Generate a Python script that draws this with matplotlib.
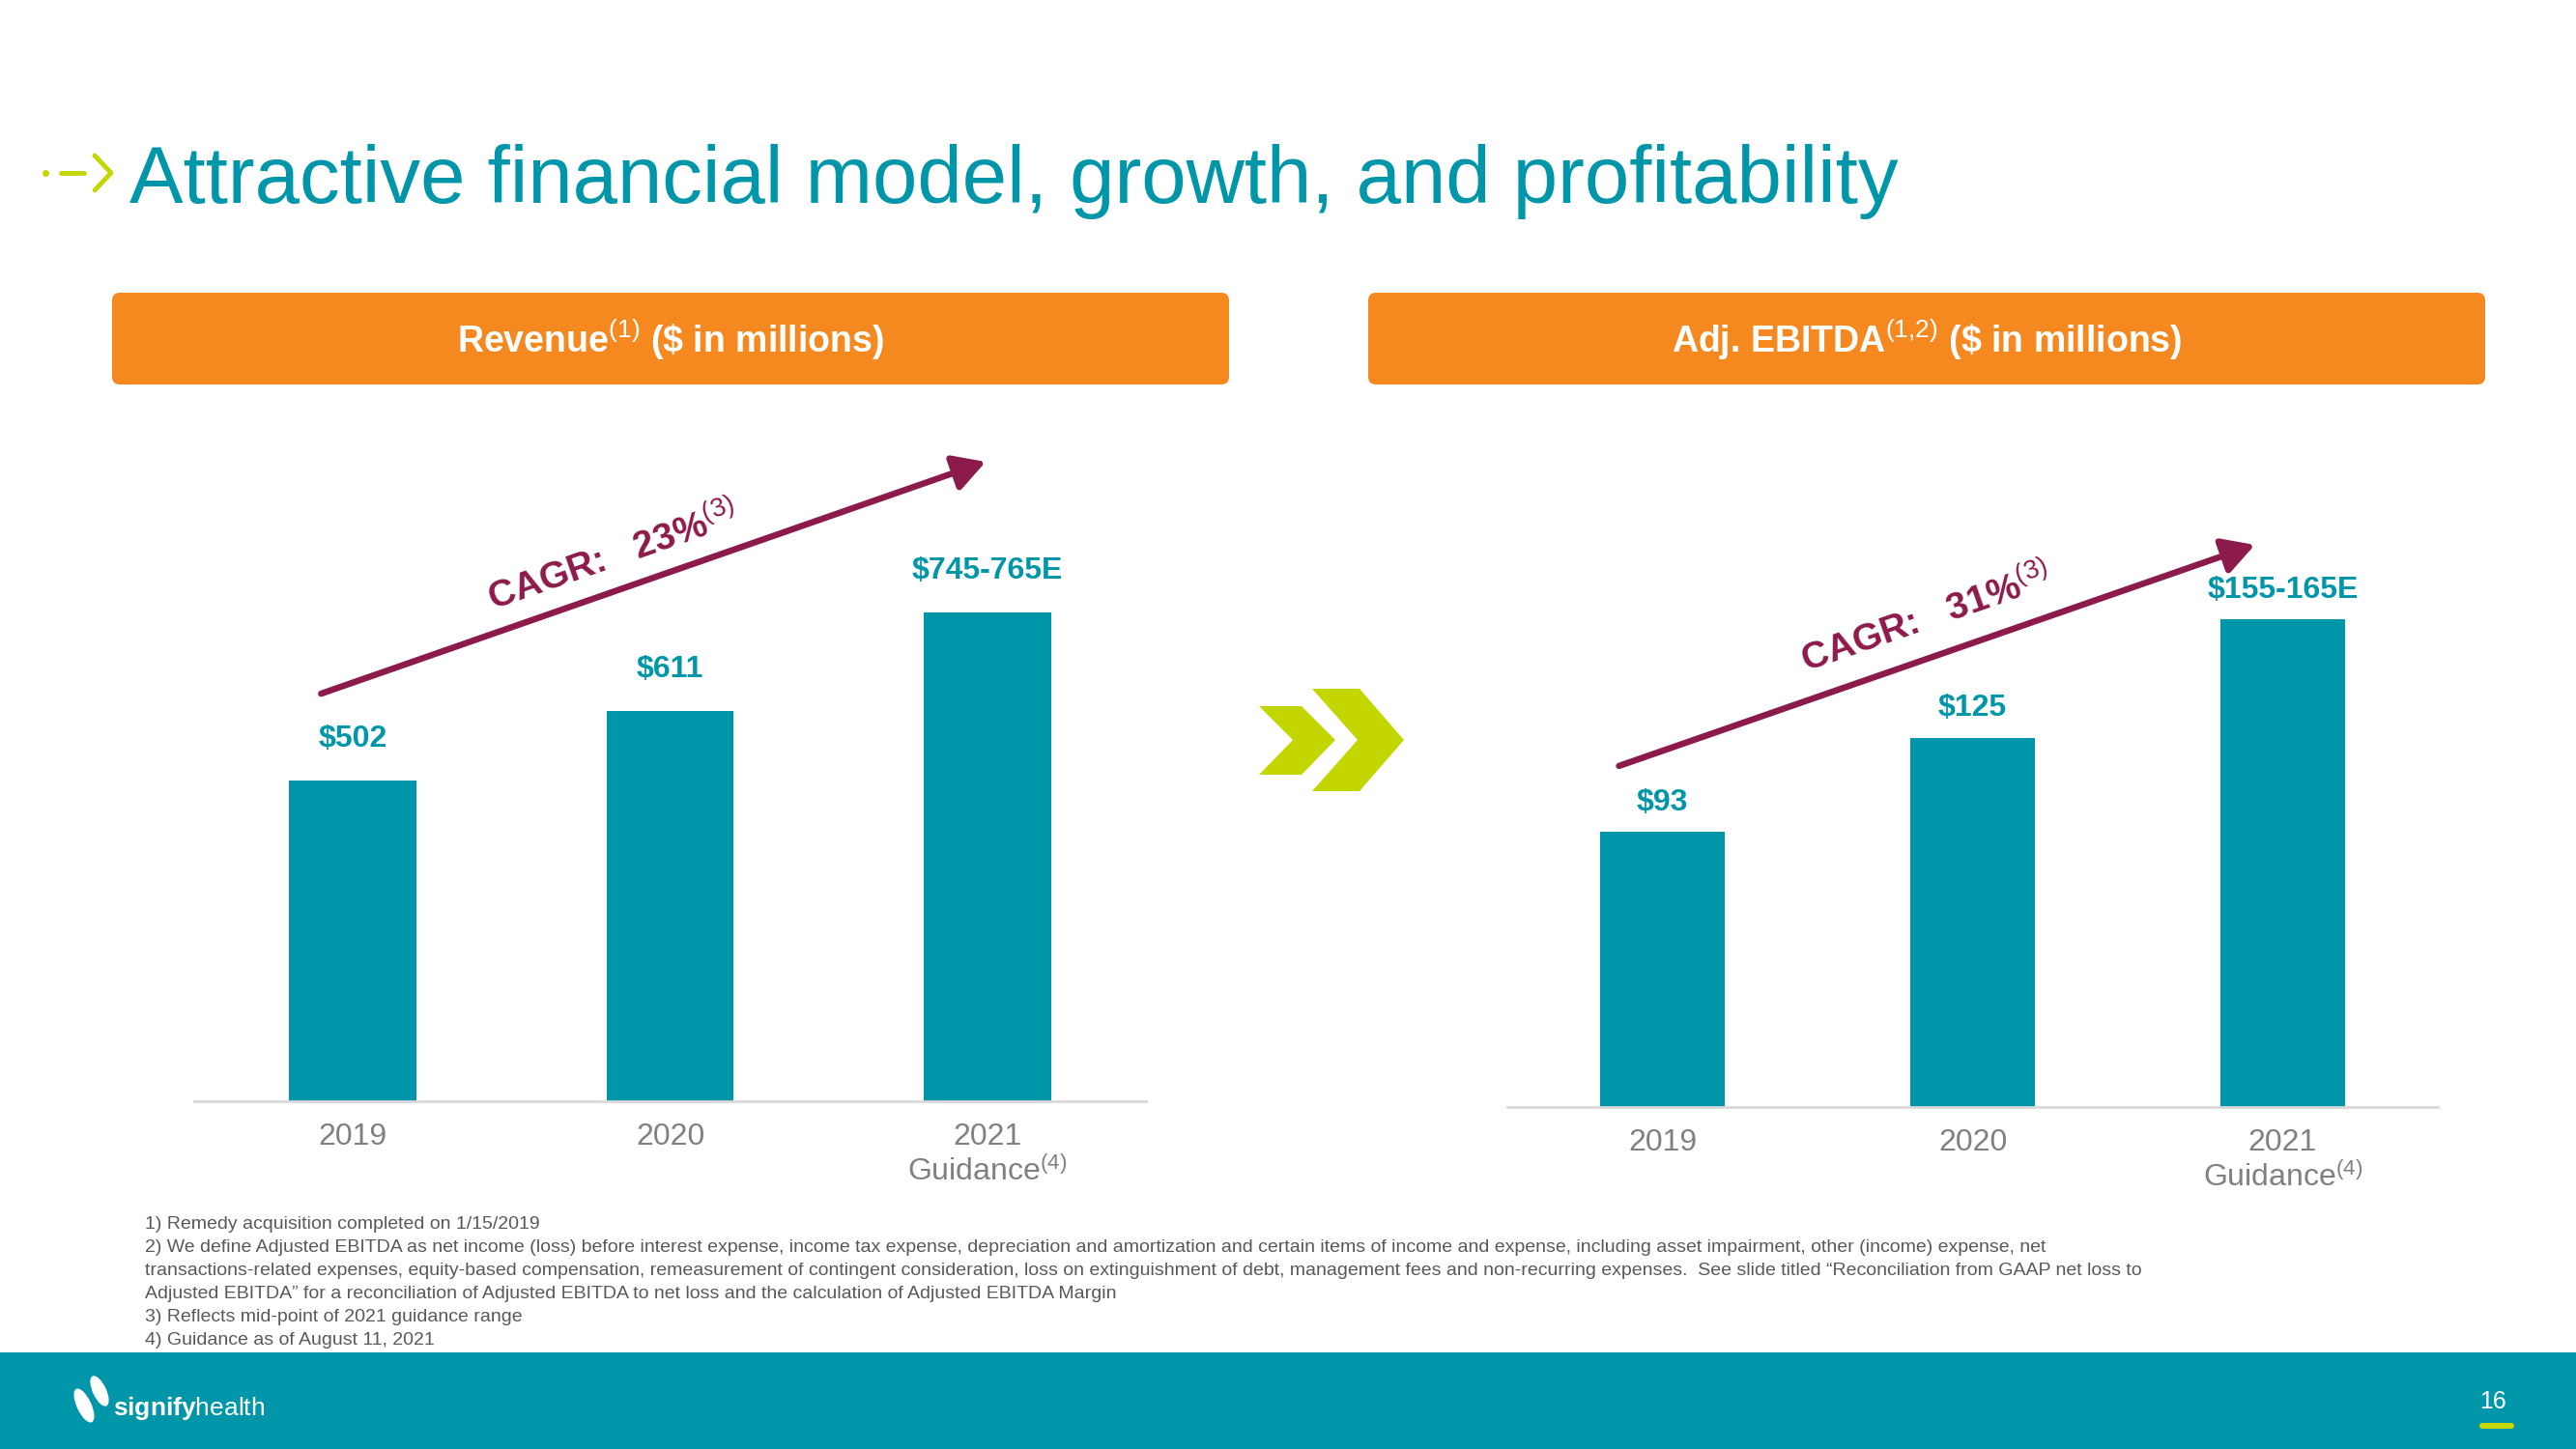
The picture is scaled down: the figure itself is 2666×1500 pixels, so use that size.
import numpy as np
import matplotlib.pyplot as plt
from matplotlib.patches import FancyBboxPatch, Polygon, Rectangle, Ellipse

plt.rcParams['font.family'] = ['Liberation Sans', 'DejaVu Sans']
plt.rcParams['mathtext.fontset'] = 'custom'
plt.rcParams['mathtext.rm'] = 'Liberation Sans'
plt.rcParams['mathtext.bf'] = 'Liberation Sans:bold'
plt.rcParams['mathtext.it'] = 'Liberation Sans:italic'

TEAL = '#0096aa'
ORANGE = '#f5891f'
MAROON = '#8c1a4b'
LIME = '#c4d600'
GRAY = '#808080'

# data
years = ['2019', '2020', '2021\nGuidance$^{(4)}$']
revenue = [502, 611, 765]
revenue_labels = ['$502', '$611', '$745-765E']
ebitda = [93, 125, 165]
ebitda_labels = ['$93', '$125', '$155-165E']
cagr = ['23%', '31%']

footnotes = [
    '1) Remedy acquisition completed on 1/15/2019',
    '2) We define Adjusted EBITDA as net income (loss) before interest expense, income tax expense, depreciation and amortization and certain items of income and expense, including asset impairment, other (income) expense, net',
    'transactions-related expenses, equity-based compensation, remeasurement of contingent consideration, loss on extinguishment of debt, management fees and non-recurring expenses.  See slide titled \u201cReconciliation from GAAP net loss to',
    'Adjusted EBITDA\u201d for a reconciliation of Adjusted EBITDA to net loss and the calculation of Adjusted EBITDA Margin',
    '3) Reflects mid-point of 2021 guidance range',
    '4) Guidance as of August 11, 2021',
]

W, H = 2666, 1500
fig = plt.figure(figsize=(W / 100, H / 100), dpi=100)
bg = fig.add_axes([0, 0, 1, 1])
bg.set_xlim(0, W)
bg.set_ylim(H, 0)
bg.axis('off')


def rect_px(x0, y0, x1, y1):
    return [x0 / W, 1 - y1 / H, (x1 - x0) / W, (y1 - y0) / H]


# title + little arrow icon
bg.plot([47], [179], 'o', color=LIME, ms=4)
bg.plot([63, 87], [179, 179], color=LIME, lw=3.5, solid_capstyle='round')
bg.plot([98, 115, 98], [161, 179, 197], color=LIME, lw=3.5, solid_capstyle='round')
bg.text(134, 210, 'Attractive financial model, growth, and profitability',
        fontsize=60, color=TEAL, va='baseline', ha='left')

# orange headers
for x0, txt in [(116, 'Revenue$^{(1)}$ (\\$ in millions)'),
                (1416, 'Adj. EBITDA$^{(1{,}2)}$ (\\$ in millions)')]:
    bg.add_patch(FancyBboxPatch((x0, 303), 1156, 95, boxstyle='round,pad=0,rounding_size=8',
                                fc=ORANGE, ec='none'))
    bg.text(x0 + 578, 352, txt, fontsize=27, fontweight='bold', color='white',
            ha='center', va='center')

# double chevron between the charts
bg.add_patch(Polygon([(1303, 731), (1347, 731), (1382, 766), (1347, 802), (1303, 802), (1338, 766)],
                     closed=True, fc=LIME, ec='none'))
bg.add_patch(Polygon([(1358, 713), (1407, 713), (1453, 766), (1407, 819), (1358, 819), (1405, 766)],
                     closed=True, fc=LIME, ec='none'))


def bar_panel(rect, values, labels, ymax, label_off, arrow, cagr_xy, cagr_txt):
    ax = fig.add_axes(rect)
    ax.patch.set_visible(False)
    x = np.arange(len(values))
    ax.bar(x, values, width=0.4, color=TEAL, zorder=2)
    ax.set_xlim(-0.5, 2.5)
    ax.set_ylim(0, ymax)
    for s in ['top', 'left', 'right']:
        ax.spines[s].set_visible(False)
    ax.spines['bottom'].set_color('#d9d9d9')
    ax.spines['bottom'].set_linewidth(2)
    ax.set_yticks([])
    ax.set_xticks(x, years)
    ax.tick_params(axis='x', length=0, pad=16, labelsize=23, labelcolor=GRAY)
    for xi, v, lab in zip(x, values, labels):
        ax.annotate(lab, (xi, v), xytext=(0, label_off), textcoords='offset points',
                    ha='center', va='center', fontsize=23, fontweight='bold', color=TEAL)
    ax.annotate('', xy=arrow[1], xytext=arrow[0],
                arrowprops=dict(arrowstyle='-|>,head_length=0.8,head_width=0.45',
                                mutation_scale=25, lw=4.7, color=MAROON,
                                shrinkA=0, shrinkB=0))
    p0, p1 = ax.transData.transform(arrow)
    ang = np.degrees(np.arctan2(p1[1] - p0[1], p1[0] - p0[0]))
    ax.text(cagr_xy[0], cagr_xy[1], 'CAGR:   ' + cagr_txt + '$^{(3)}$', rotation=ang,
            rotation_mode='anchor', ha='center', va='center',
            fontsize=28, fontweight='bold', color=MAROON)
    return ax


bar_panel(rect_px(201, 400, 1186, 1140), revenue, revenue_labels, 1119, 31,
          [(-0.1, 638), (1.995, 1001)], (0.82, 851), cagr[0])
bar_panel(rect_px(1560, 400, 2523, 1146), ebitda, ebitda_labels, 243.8, 22,
          [(-0.14, 115.4), (1.91, 190.2)], (0.85, 165), cagr[1])

# footnotes
for i, line in enumerate(footnotes):
    bg.text(150, 1268 + i * 24, line, fontsize=14, color='#595959', va='center', ha='left')

# footer band
bg.add_patch(Rectangle((0, 1400), W, 100, fc=TEAL, ec='none'))
bg.add_patch(Ellipse((87, 1455), 15, 38, angle=-25, fc='white', ec='none'))
bg.add_patch(Ellipse((103, 1440), 14, 34, angle=-25, fc='white', ec='none'))
bg.text(117, 1465, r'$\mathbf{signify}$health', fontsize=19, color='white',
        va='baseline', ha='left')
bg.text(2580, 1451, '16', fontsize=18, color='white', ha='center', va='center')
bg.add_patch(FancyBboxPatch((2566, 1473), 36, 6, boxstyle='round,pad=0,rounding_size=3',
                            fc=LIME, ec='none'))

fig.savefig('out.png', dpi=100)
